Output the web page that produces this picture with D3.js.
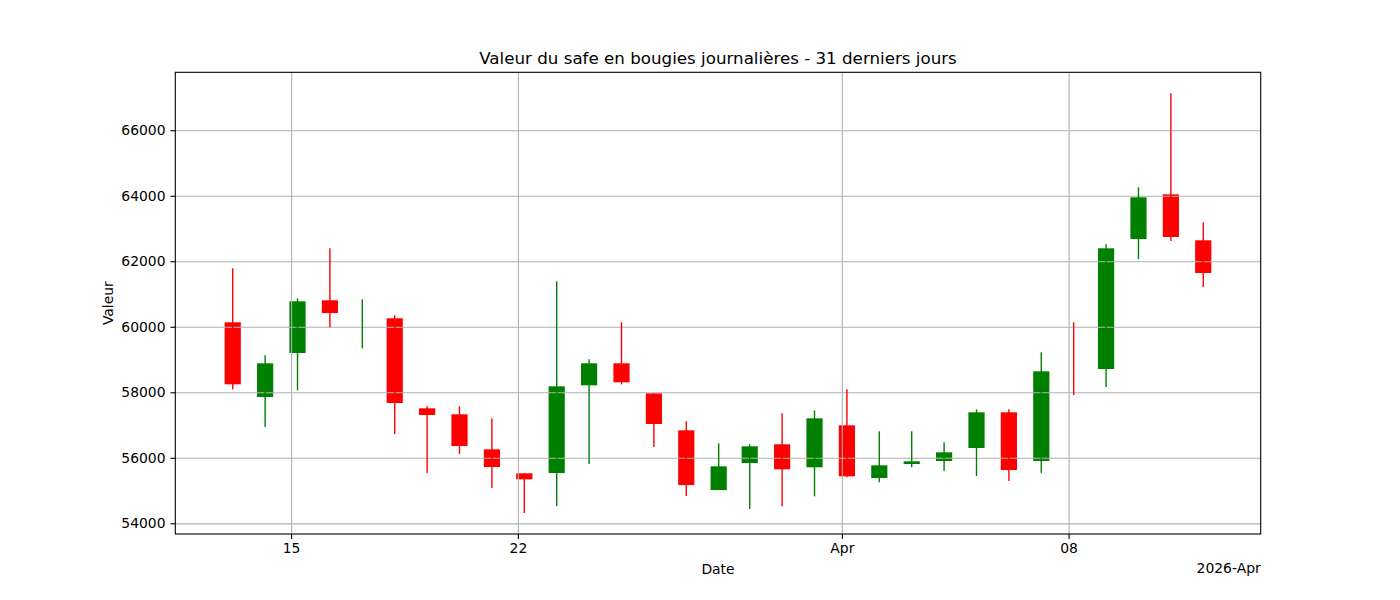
<!DOCTYPE html>
<html>
<head>
<meta charset="utf-8">
<script src="https://cdn.jsdelivr.net/npm/d3@7"></script>
<style>
  html, body { margin: 0; padding: 0; background: #fff; }
  svg { display: block; font-family: "DejaVu Sans", sans-serif; }
</style>
</head>
<body>
<svg id="chart" width="1400" height="600"></svg>
<script>
const dates = [
  "2026-03-13T04:45Z","2026-03-14T04:45Z","2026-03-15T04:45Z","2026-03-16T04:45Z",
  "2026-03-17T04:45Z","2026-03-18T04:45Z","2026-03-19T04:45Z","2026-03-20T04:45Z",
  "2026-03-21T04:45Z","2026-03-22T04:45Z","2026-03-23T04:45Z","2026-03-24T04:45Z",
  "2026-03-25T04:45Z","2026-03-26T04:45Z","2026-03-27T04:45Z","2026-03-28T04:45Z",
  "2026-03-29T03:45Z","2026-03-30T03:45Z","2026-03-31T03:45Z","2026-04-01T03:45Z",
  "2026-04-02T03:45Z","2026-04-03T03:45Z","2026-04-04T03:45Z","2026-04-05T03:45Z",
  "2026-04-06T03:45Z","2026-04-07T03:45Z","2026-04-08T03:45Z","2026-04-09T03:45Z",
  "2026-04-10T03:45Z","2026-04-11T03:45Z","2026-04-12T03:45Z"
];
const openV  = [60137,57856,59200,60808,60420,60259,57511,57328,56259,55527,55536,58213,58885,57969,56839,55017,55841,56412,55710,56992,55383,55810,55902,56300,57389,55902,58690,58711,62680,64044,62640];
const highV  = [61785,59129,60869,62396,60839,60350,57572,57572,57206,55527,61389,59007,60137,57969,57114,56442,56412,57358,57450,58091,56809,56809,56473,57480,57480,59221,60137,62518,64258,67128,63189];
const lowV   = [58091,56940,58060,59984,59343,56726,55536,56116,55078,54315,54528,55810,58244,56329,54833,55017,54437,54519,54824,55404,55252,55710,55597,55444,55291,55536,57917,58161,62070,62619,61215];
const closeV = [58244,58885,60778,60420,60421,57673,57307,56360,55719,55343,58183,58885,58305,57032,55169,55740,56351,55649,57206,55435,55771,55893,56168,57389,55627,58641,58689,62396,63953,62741,61642];

const xTickDates  = ["2026-03-15T00:00Z","2026-03-22T00:00Z","2026-04-01T00:00Z","2026-04-08T00:00Z"];
const xTickLabels = ["15","22","Apr","08"];
const yTicks = [54000,56000,58000,60000,62000,64000,66000];

const titleText = "Valeur du safe en bougies journalières - 31 derniers jours";
const xLabelText = "Date";
const yLabelText = "Valeur";
const offsetText = "2026-Apr";

const candles = dates.map((d, i) => ({
  t: new Date(d), o: openV[i], h: highV[i], l: lowV[i], c: closeV[i]
}));

const svg = d3.select("#chart");
const L = 175.3, R = 1260.7, T = 72.3, B = 534;
const HALF = 6 * 3600 * 1000; // half of body width (0.5 day)

// x domain with 5% margins like matplotlib
const xmin = d3.min(candles, d => +d.t) - HALF;
const xmax = d3.max(candles, d => +d.t) + HALF;
const xpad = (xmax - xmin) * 0.05;
const x = d3.scaleUtc().domain([new Date(xmin - xpad), new Date(xmax + xpad)]).range([L, R]);

const ymin = d3.min(lowV), ymax = d3.max(highV);
const ypad = (ymax - ymin) * 0.05;
const y = d3.scaleLinear().domain([ymin - ypad, ymax + ypad]).range([B, T]);

const color = d => d.c >= d.o ? "#008000" : "#ff0000";

// bodies (under grid)
svg.append("g").selectAll("rect").data(candles).join("rect")
  .attr("x", d => x(new Date(+d.t - HALF)))
  .attr("width", d => x(new Date(+d.t + HALF)) - x(new Date(+d.t - HALF)))
  .attr("y", d => y(Math.max(d.o, d.c)))
  .attr("height", d => Math.abs(y(d.o) - y(d.c)))
  .attr("fill", color);

// grid
const tickDates = xTickDates.map(s => new Date(s));
const gridG = svg.append("g");
gridG.append("g").attr("transform", `translate(0,${B})`)
  .call(d3.axisBottom(x).tickValues(tickDates).tickSize(-(B - T)).tickFormat(""))
  .call(g => g.select(".domain").remove())
  .call(g => g.selectAll("line").attr("stroke", "#b0b0b0").attr("stroke-width", 1.1));
gridG.append("g").attr("transform", `translate(${L},0)`)
  .call(d3.axisLeft(y).tickValues(yTicks).tickSize(-(R - L)).tickFormat(""))
  .call(g => g.select(".domain").remove())
  .call(g => g.selectAll("line").attr("stroke", "#b0b0b0").attr("stroke-width", 1.1));

// wicks
svg.append("g").selectAll("line").data(candles).join("line")
  .attr("x1", d => x(d.t)).attr("x2", d => x(d.t))
  .attr("y1", d => y(d.h)).attr("y2", d => y(d.l))
  .attr("stroke", color).attr("stroke-width", 1.4);

// frame
svg.append("rect").attr("x", L).attr("y", T).attr("width", R - L).attr("height", B - T)
  .attr("fill", "none").attr("stroke", "#000").attr("stroke-width", 1.1);

// axes
const xAxis = svg.append("g").attr("transform", `translate(0,${B})`)
  .call(d3.axisBottom(x).tickValues(tickDates).tickSize(4.9).tickPadding(4.2)
    .tickFormat((d, i) => xTickLabels[i]));
xAxis.select(".domain").remove();
xAxis.selectAll("line").attr("stroke", "#000").attr("stroke-width", 1.1);
xAxis.selectAll("text").attr("font-size", "13.9px").attr("fill", "#000")
  .attr("font-family", "DejaVu Sans");

const yAxis = svg.append("g").attr("transform", `translate(${L},0)`)
  .call(d3.axisLeft(y).tickValues(yTicks).tickSize(4.9).tickPadding(4.9).tickFormat(d3.format("d")));
yAxis.select(".domain").remove();
yAxis.selectAll("line").attr("stroke", "#000").attr("stroke-width", 1.1);
yAxis.selectAll("text").attr("font-size", "13.9px").attr("fill", "#000")
  .attr("font-family", "DejaVu Sans");

// labels
svg.append("text").attr("x", (L + R) / 2).attr("y", 64).attr("text-anchor", "middle")
  .attr("font-size", "16.7px").attr("fill", "#000").text(titleText);
svg.append("text").attr("x", (L + R) / 2).attr("y", 574).attr("text-anchor", "middle")
  .attr("font-size", "13.9px").attr("fill", "#000").text(xLabelText);
svg.append("text").attr("x", R).attr("y", 573).attr("text-anchor", "end")
  .attr("font-size", "13.9px").attr("fill", "#000").text(offsetText);
svg.append("text").attr("transform", `translate(113,${(T + B) / 2}) rotate(-90)`)
  .attr("text-anchor", "middle").attr("font-size", "13.9px").attr("fill", "#000").text(yLabelText);
</script>
</body>
</html>
